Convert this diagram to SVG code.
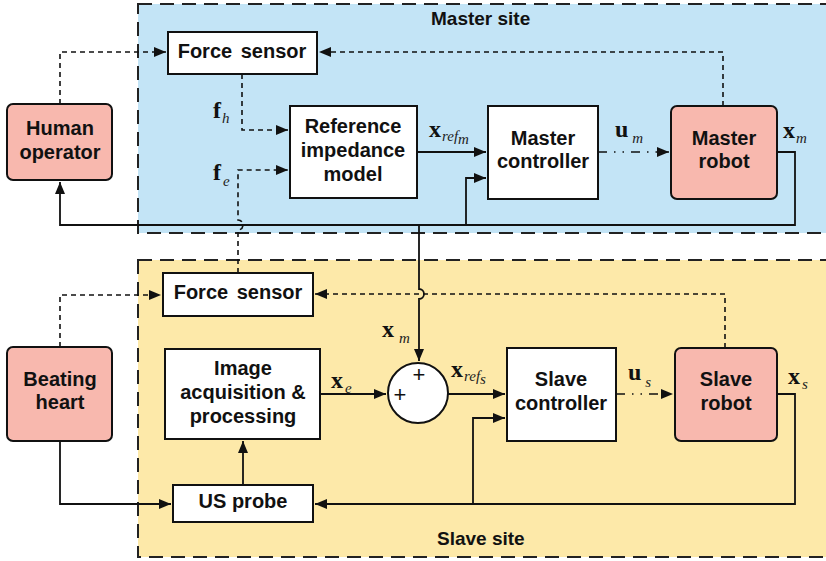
<svg xmlns="http://www.w3.org/2000/svg" width="826" height="561" viewBox="0 0 826 561">
<style>
.site{stroke:#222;stroke-width:2;stroke-dasharray:14 8}
.box{fill:#fff;stroke:#111;stroke-width:2}
.pink{fill:#f8b8ae;stroke:#111;stroke-width:2}
.t{font-family:"Liberation Sans",Arial,sans-serif;font-weight:bold;font-size:20px;fill:#111;text-anchor:middle}
.st{font-family:"Liberation Sans",Arial,sans-serif;font-weight:bold;font-size:19px;fill:#111}
.m{font-family:"Liberation Serif","Times New Roman",serif;font-weight:bold;font-size:24px;fill:#111}
.sub{font-family:"Liberation Serif","Times New Roman",serif;font-style:italic;font-weight:normal;font-size:15px;fill:#222}
.ln{fill:none;stroke:#111;stroke-width:1.8}
.da{fill:none;stroke:#111;stroke-width:1.6;stroke-dasharray:5 4}
.dd{fill:none;stroke:#111;stroke-width:1.6;stroke-dasharray:9 7 1.5 7 1.5 7}
</style>
<defs>
<marker id="ah" markerWidth="12" markerHeight="10" refX="12" refY="5" orient="auto" markerUnits="userSpaceOnUse">
<path d="M0,0 L12,5 L0,10 z" fill="#111"/>
</marker>
</defs>
<rect x="0" y="0" width="826" height="561" fill="#fff"/>
<g id="master-site">
<rect x="138" y="4" width="700" height="229" fill="#c3e4f6" class="site"/>
<text class="st" x="431" y="25">Master site</text>
</g>
<g id="slave-site">
<rect x="138" y="260" width="700" height="297" fill="#fde9a9" class="site"/>
<text class="st" x="437" y="545">Slave site</text>
</g>
<g id="connectors">
<path class="da" d="M60,104 V52 H166" marker-end="url(#ah)"/>
<path class="da" d="M723,106 V52 H319" marker-end="url(#ah)"/>
<path class="da" d="M242,74 V130 H288" marker-end="url(#ah)"/>
<path class="da" d="M238,273 V230 A5,5 0 0 0 238,220 V170 H288" marker-end="url(#ah)"/>
<path class="ln" d="M417,152 H486" marker-end="url(#ah)"/>
<path class="ln" d="M466,225 V178 H486" marker-end="url(#ah)"/>
<path class="dd" d="M598,152 H669" marker-end="url(#ah)"/>
<path class="ln" d="M777,152 H795 V225 H60 V182" marker-end="url(#ah)"/>
<path class="ln" d="M419,225 V289 A5,5 0 0 1 419,299 V361" marker-end="url(#ah)"/>
<path class="da" d="M60,347 V295 H161" marker-end="url(#ah)"/>
<path class="da" d="M725,348 V294 H315" marker-end="url(#ah)"/>
<path class="ln" d="M320,394 H386" marker-end="url(#ah)"/>
<path class="ln" d="M448,394 H505" marker-end="url(#ah)"/>
<path class="ln" d="M473,504 V418 H505" marker-end="url(#ah)"/>
<path class="dd" d="M616,394 H673" marker-end="url(#ah)"/>
<path class="ln" d="M777,394 H795 V504 H315" marker-end="url(#ah)"/>
<path class="ln" d="M243,485 V441" marker-end="url(#ah)"/>
<path class="ln" d="M60,441 V504 H171" marker-end="url(#ah)"/>
</g>
<g id="human-operator">
<rect class="pink" x="7" y="104" width="105" height="76" rx="6"/>
<text class="t" x="60" y="135">Human</text>
<text class="t" x="60" y="159">operator</text>
</g>
<g id="force-sensor-master">
<rect class="box" x="168" y="32" width="149" height="42"/>
<text class="t" x="242" y="58" word-spacing="3">Force sensor</text>
</g>
<g id="reference-impedance-model">
<rect class="box" x="290" y="106" width="127" height="92"/>
<text class="t" x="353" y="133">Reference</text>
<text class="t" x="353" y="157">impedance</text>
<text class="t" x="353" y="181">model</text>
</g>
<g id="master-controller">
<rect class="box" x="488" y="106" width="110" height="93"/>
<text class="t" x="543" y="145">Master</text>
<text class="t" x="543" y="168">controller</text>
</g>
<g id="master-robot">
<rect class="pink" x="671" y="106" width="106" height="93" rx="6"/>
<text class="t" x="724" y="145">Master</text>
<text class="t" x="724" y="168">robot</text>
</g>
<g id="force-sensor-slave">
<rect class="box" x="163" y="273" width="150" height="43"/>
<text class="t" x="238" y="299" word-spacing="3">Force sensor</text>
</g>
<g id="beating-heart">
<rect class="pink" x="7" y="347" width="105" height="94" rx="6"/>
<text class="t" x="60" y="386">Beating</text>
<text class="t" x="60" y="409">heart</text>
</g>
<g id="image-acquisition">
<rect class="box" x="165" y="349" width="155" height="90"/>
<text class="t" x="243" y="375">Image</text>
<text class="t" x="243" y="399">acquisition &amp;</text>
<text class="t" x="243" y="423">processing</text>
</g>
<g id="us-probe">
<rect class="box" x="173" y="485" width="140" height="37"/>
<text class="t" x="243" y="508">US probe</text>
</g>
<g id="sum">
<circle cx="418" cy="393" r="30" fill="#fff" stroke="#111" stroke-width="2"/>
<text x="419" y="382" font-family="Liberation Sans,Arial,sans-serif" font-size="22" text-anchor="middle" fill="#111">+</text>
<text x="400" y="402" font-family="Liberation Sans,Arial,sans-serif" font-size="22" text-anchor="middle" fill="#111">+</text>
</g>
<g id="slave-controller">
<rect class="box" x="507" y="348" width="109" height="93"/>
<text class="t" x="561" y="386">Slave</text>
<text class="t" x="561" y="410">controller</text>
</g>
<g id="slave-robot">
<rect class="pink" x="675" y="348" width="102" height="93" rx="6"/>
<text class="t" x="726" y="386">Slave</text>
<text class="t" x="726" y="410">robot</text>
</g>
<g id="labels">
<text class="m" x="213" y="118">f<tspan class="sub" dx="1" dy="5">h</tspan></text>
<text class="m" x="213" y="180">f<tspan class="sub" dx="2" dy="6">e</tspan></text>
<text class="m" x="429" y="137">x<tspan class="sub" dx="1" dy="4">ref</tspan><tspan class="sub" font-size="11" dy="3">m</tspan></text>
<text class="m" x="615" y="137">u<tspan class="sub" dx="4" dy="6">m</tspan></text>
<text class="m" x="783" y="138">x<tspan class="sub" dx="1" dy="5">m</tspan></text>
<text class="m" x="382" y="337">x<tspan class="sub" dx="5" dy="6">m</tspan></text>
<text class="m" x="331" y="388">x<tspan class="sub" dx="2" dy="5">e</tspan></text>
<text class="m" x="451" y="377">x<tspan class="sub" dx="1" dy="4">ref</tspan><tspan class="sub" font-size="11" dy="3">s</tspan></text>
<text class="m" x="628" y="380">u<tspan class="sub" dx="4" dy="7">s</tspan></text>
<text class="m" x="788" y="384">x<tspan class="sub" dx="2" dy="5">s</tspan></text>
</g>
</svg>
